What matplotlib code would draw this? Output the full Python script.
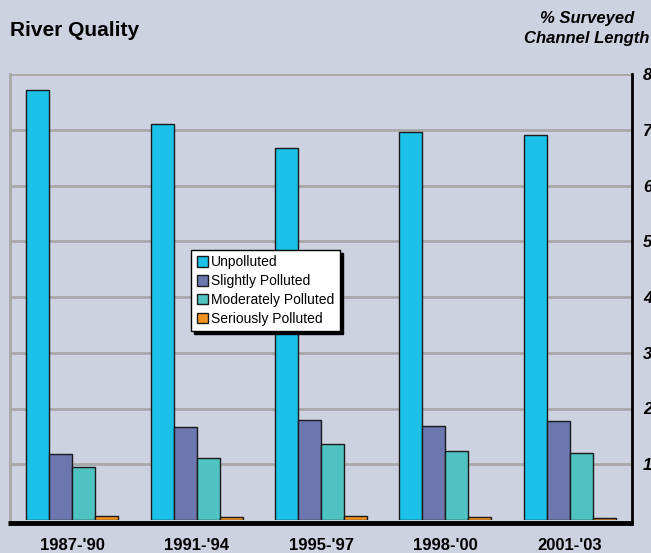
import matplotlib
matplotlib.use("Agg")
import matplotlib.pyplot as plt
from matplotlib.lines import Line2D
import numpy as np

plt.rcParams['font.family'] = ['Liberation Sans', 'DejaVu Sans']

periods = ["1987-'90", "1991-'94", "1995-'97", "1998-'00", "2001-'03"]
series_names = ["Unpolluted", "Slightly Polluted", "Moderately Polluted", "Seriously Polluted"]
unpolluted = [77.1, 71.1, 66.8, 69.6, 69.1]
slightly = [11.8, 16.6, 18.0, 16.8, 17.7]
moderately = [9.5, 11.2, 13.7, 12.3, 12.1]
seriously = [0.8, 0.5, 0.7, 0.6, 0.4]
y_ticks = [10, 20, 30, 40, 50, 60, 70, 80]
y_ticklabels = ["10", "20", "30", "40", "50", "60", "70", "80"]

colors = ["#1BC1E6", "#6B77AE", "#4EC3C1", "#F39322"]
bg = "#CDD2E0"

W, H = 651, 553
fig = plt.figure(figsize=(W/100, H/100), dpi=100, facecolor=bg)
ax = fig.add_axes([10/W, (H-520)/H, 622/W, 446/H])
ax.set_facecolor(bg)

x = np.arange(len(periods))
w = 23/124.5
data = [unpolluted, slightly, moderately, seriously]
for k, (vals, c, name) in enumerate(zip(data, colors, series_names)):
    ax.bar(x + (k-1.5)*w, vals, width=w, color=c, edgecolor="#1a1a1a",
           linewidth=1, label=name, zorder=3)

ax.set_xlim(-0.5, 4.5)
ax.set_ylim(0, 80)

# gridlines (back wall)
for t in y_ticks:
    ax.axhline(t, color="#A8A8A8", linewidth=2, zorder=1)

for s in ax.spines.values():
    s.set_visible(False)
# left wall
ax.plot([0, 0], [0, 1], transform=ax.transAxes, color="#A8A8A8", lw=2, zorder=1, clip_on=False)
# right black line
fig.add_artist(Line2D([632/W, 632/W], [1-74/H, 1-524/H], color="black", lw=2, zorder=4))
# floor (below bars)
fig.add_artist(Line2D([8/W, 633/W], [1-523/H, 1-523/H], color="black", lw=3.5, zorder=4,
                      solid_capstyle='butt'))

ax.set_xticks(x)
ax.set_xticklabels(periods, fontsize=12, fontweight='bold')
ax.tick_params(axis='x', length=0, pad=13)

ax.yaxis.tick_right()
ax.set_yticks(y_ticks)
ax.set_yticklabels(y_ticklabels, fontsize=12, fontweight='bold', fontstyle='italic')
ax.tick_params(axis='y', length=0, pad=8)

leg = ax.legend(loc='upper left', bbox_to_anchor=(0.291, 0.606), borderaxespad=0,
                fontsize=10, fancybox=False, shadow={'color': 'black', 'alpha': 1},
                handlelength=0.8, handleheight=0.8, handletextpad=0.25,
                labelspacing=0.35, borderpad=0.4, framealpha=1)
leg.get_frame().set_edgecolor('black')
leg.get_frame().set_linewidth(1)
leg.set_zorder(10)

fig.text(10/W, 1-31/H, "River Quality", fontsize=15, fontweight='bold', va='center', ha='left')
fig.text(634/W, 1-19/H, "% Surveyed", fontsize=12, fontweight='bold', fontstyle='italic',
         va='center', ha='right')
fig.text(649/W, 1-38/H, "Channel Length", fontsize=12, fontweight='bold', fontstyle='italic',
         va='center', ha='right')

fig.savefig("out.png", dpi=100, facecolor=bg)
